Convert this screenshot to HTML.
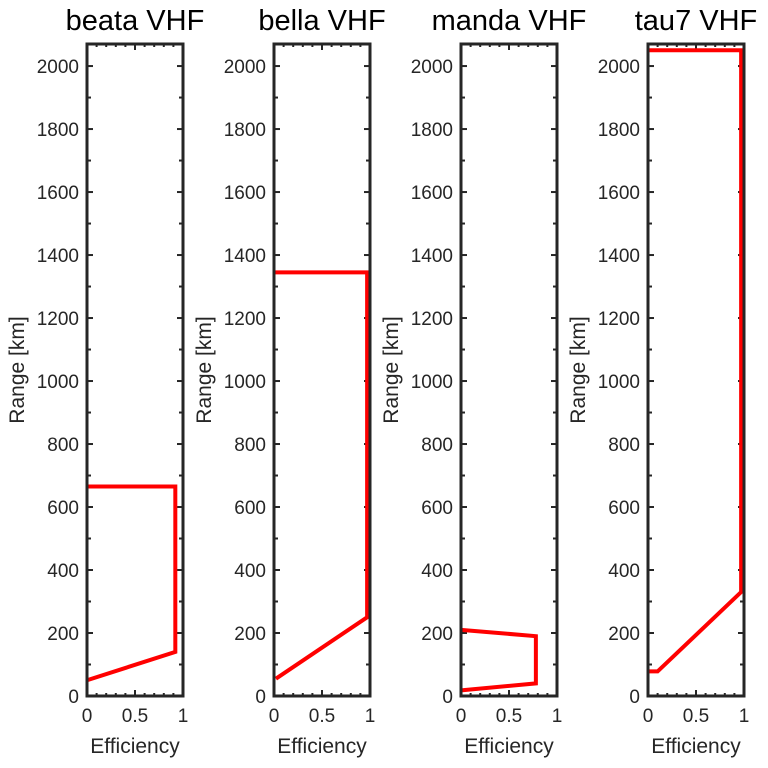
<!DOCTYPE html><html><head><style>body{margin:0;background:#fff}svg{display:block}text{font-family:"Liberation Sans",sans-serif;fill:#262626}</style></head><body>
<svg id="s" width="768" height="768" xmlns="http://www.w3.org/2000/svg"></svg>
<script>
(function(){
const s=document.getElementById('s');let h='';
const T=44,B=696,W=96,ymax=2070;
const Y=v=>B-(B-T)*v/ymax;
const P=[["beata VHF",87,[[0,50],[0.92,140],[0.92,665],[0,665]]],
["bella VHF",274,[[0.02,55],[0.97,250],[0.97,1345],[0,1345]]],
["manda VHF",461,[[0,18],[0.78,40],[0.78,190],[0,210]]],
["tau7 VHF",648,[[0,78],[0.1,78],[0.97,330],[0.97,2050],[0,2050]]]];
for(const [t,x0,d] of P){
 const X=v=>x0+W*v;
 h+=`<text x="${x0+W/2}" y="30" font-size="29" text-anchor="middle" style="fill:#000">${t}</text>`;
 for(let v=0;v<=2000;v+=100){const y=Y(v),L=v%200==0?6:4;
  h+=`<line x1="${x0}" x2="${x0+L}" y1="${y}" y2="${y}" stroke="#262626" stroke-width="2"/><line x1="${x0+W-L}" x2="${x0+W}" y1="${y}" y2="${y}" stroke="#262626" stroke-width="2"/>`;
  if(v%200==0)h+=`<text x="${x0-8}" y="${y+7}" font-size="19" text-anchor="end">${v}</text>`;}
 for(let i=0;i<=10;i++){const x=X(i/10),L=i%5==0?6:3;
  h+=`<line x1="${x}" x2="${x}" y1="${B}" y2="${B-L}" stroke="#262626" stroke-width="2"/><line x1="${x}" x2="${x}" y1="${T}" y2="${T+L}" stroke="#262626" stroke-width="2"/>`;}
 [[0,"0"],[0.5,"0.5"],[1,"1"]].forEach(([v,l])=>{h+=`<text x="${X(v)}" y="${B+26}" font-size="19" text-anchor="middle">${l}</text>`;});
 h+=`<text x="${x0+W/2}" y="${B+57}" font-size="21" text-anchor="middle">Efficiency</text>`;
 h+=`<text transform="translate(${x0-63},${(T+B)/2}) rotate(-90)" font-size="21" text-anchor="middle">Range [km]</text>`;
 h+=`<polyline points="${d.map(p=>X(p[0])+','+Y(p[1])).join(' ')}" fill="none" stroke="#f00" stroke-width="4"/>`;
 h+=`<rect x="${x0}" y="${T}" width="${W}" height="${B-T}" fill="none" stroke="#262626" stroke-width="3"/>`;
}
s.innerHTML=h;
})();
</script></body></html>
